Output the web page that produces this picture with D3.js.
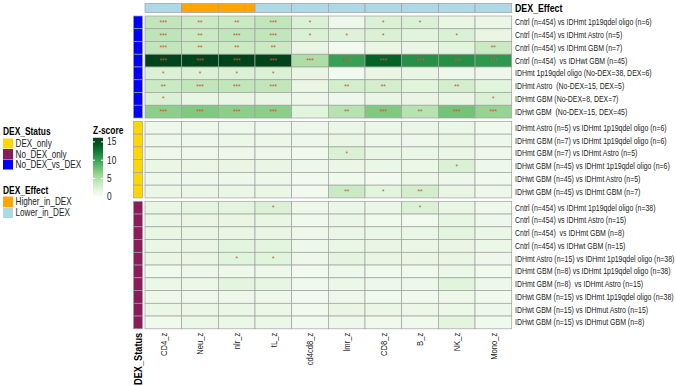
<!DOCTYPE html>
<html>
<head>
<meta charset="utf-8">
<script src="https://cdn.jsdelivr.net/npm/d3@7"></script>
<style>
  body { margin: 0; background: #fff; }
  svg { font-family: "Liberation Sans", Arial, sans-serif; }
</style>
</head>
<body>
<div id="heatmap"></div>
<script>
// columns and their DEX effect annotation
const columns = ["CD4_z", "Neu_z", "nlr_z", "tL_z", "cd4cd8_z", "lmr_z", "CD8_z", "B_z", "NK_z", "Mono_z"];
const effect = ["Lower_in_DEX", "Higher_in_DEX", "Higher_in_DEX", "Lower_in_DEX", "Lower_in_DEX",
                "Lower_in_DEX", "Lower_in_DEX", "Lower_in_DEX", "Lower_in_DEX", "Lower_in_DEX"];

// row groups (DEX_Status)
const statusLevels = ["DEX_only", "No_DEX_only", "No_DEX_vs_DEX"];

const rowsNoDexVsDex = [
  "Cntrl (n=454) vs IDHmt 1p19qdel oligo (n=6)",
  "Cntrl (n=454) vs IDHmt Astro (n=5)",
  "Cntrl (n=454) vs IDHmt GBM (n=7)",
  "Cntrl (n=454)  vs IDHwt GBM (n=45)",
  "IDHmt 1p19qdel oligo (No-DEX=38, DEX=6)",
  "IDHmt Astro  (No-DEX=15, DEX=5)",
  "IDHmt GBM (No-DEX=8, DEX=7)",
  "IDHwt GBM  (No-DEX=15, DEX=45)"
];
const rowsDexOnly = [
  "IDHmt Astro (n=5) vs IDHmt 1p19qdel oligo (n=6)",
  "IDHmt GBM (n=7) vs IDHmt 1p19qdel oligo (n=6)",
  "IDHmt GBM (n=7) vs IDHmt Astro (n=5)",
  "IDHwt GBM (n=45) vs IDHmt 1p19qdel oligo (n=6)",
  "IDHwt GBM (n=45) vs IDHmt Astro (n=5)",
  "IDHwt GBM (n=45) vs IDHmt GBM (n=7)"
];
const rowsNoDexOnly = [
  "Cntrl (n=454) vs IDHmt 1p19qdel oligo (n=38)",
  "Cntrl (n=454) vs IDHmt Astro (n=15)",
  "Cntrl (n=454)  vs IDHmt GBM (n=8)",
  "Cntrl (n=454) vs IDHwt GBM (n=15)",
  "IDHmt Astro (n=15) vs IDHmt 1p19qdel oligo (n=38)",
  "IDHmt GBM (n=8) vs IDHmt 1p19qdel oligo (n=38)",
  "IDHmt GBM (n=8)  vs IDHmt Astro (n=15)",
  "IDHwt GBM (n=15) vs IDHmt 1p19qdel oligo (n=38)",
  "IDHwt GBM (n=15) vs IDHmut Astro (n=15)",
  "IDHwt GBM (n=15) vs IDHmut GBM (n=8)"
];

// z-scores, one array per row, in column order
const zNoDexVsDex = [
  [4.0, 3.5, 3.5, 4.0, 2.5, 1.0, 2.5, 2.5, 1.5, 1.3],
  [4.2, 3.5, 4.0, 4.0, 2.5, 2.3, 2.5, 2.0, 2.5, 1.5],
  [4.0, 3.5, 3.5, 3.5, 1.5, 0.5, 1.5, 1.5, 2.0, 3.5],
  [15.5, 15.5, 15.5, 15.5, 5.0, 10.0, 13.5, 11.0, 11.0, 10.5],
  [2.5, 2.5, 2.5, 2.5, 1.5, 0.6, 1.5, 1.5, 1.0, 1.0],
  [3.5, 4.0, 4.0, 4.0, 1.5, 3.0, 3.0, 2.0, 3.0, 2.0],
  [2.5, 1.5, 1.5, 1.5, 1.0, 1.0, 1.5, 1.5, 1.5, 2.5],
  [6.5, 7.0, 6.5, 6.5, 2.0, 4.5, 7.0, 4.5, 7.5, 6.0]
];
const zDexOnly = [
  [1.0, 1.0, 1.0, 1.0, 1.0, 1.3, 1.3, 1.3, 1.3, 0.8],
  [1.0, 1.0, 1.2, 1.2, 1.0, 1.5, 1.0, 1.0, 1.5, 1.0],
  [1.0, 1.0, 1.0, 1.0, 0.8, 2.5, 1.5, 1.3, 1.3, 1.0],
  [1.3, 1.3, 1.5, 1.5, 1.0, 1.3, 1.3, 1.2, 2.5, 1.0],
  [1.0, 1.0, 1.0, 1.0, 0.5, 0.8, 0.6, 1.2, 1.0, 0.8],
  [1.3, 1.3, 1.3, 1.3, 0.5, 3.5, 2.0, 3.0, 1.5, 1.0]
];
const zNoDexOnly = [
  [1.5, 1.8, 1.8, 2.5, 1.0, 1.3, 1.3, 2.5, 1.5, 1.0],
  [1.3, 1.5, 1.5, 1.5, 0.8, 1.3, 0.8, 0.6, 1.6, 1.0],
  [1.5, 1.5, 1.5, 1.5, 1.0, 1.3, 1.3, 1.3, 1.8, 1.3],
  [1.3, 1.5, 1.8, 1.8, 1.0, 1.3, 1.5, 1.3, 1.5, 1.2],
  [1.5, 1.5, 2.0, 2.0, 1.0, 1.8, 1.5, 1.5, 1.5, 1.0],
  [0.8, 1.0, 1.0, 1.0, 0.6, 1.0, 0.8, 0.8, 1.2, 0.8],
  [1.2, 1.2, 1.8, 1.6, 0.8, 1.2, 1.0, 1.0, 2.0, 1.0],
  [1.0, 1.0, 1.0, 1.0, 0.6, 1.0, 0.6, 0.8, 1.0, 0.8],
  [1.3, 1.3, 1.3, 1.2, 0.8, 1.5, 1.3, 1.2, 1.2, 1.0],
  [0.8, 1.2, 1.2, 1.2, 0.6, 1.0, 0.8, 0.8, 1.8, 0.8]
];

// significance marks
const sigNoDexVsDex = [
  ["***", "**", "**", "***", "*", "", "*", "*", "", ""],
  ["***", "**", "***", "***", "*", "*", "*", "", "*", ""],
  ["***", "**", "**", "**", "", "", "", "", "", "**"],
  ["***", "***", "***", "***", "***", "***", "***", "***", "***", "***"],
  ["*", "*", "*", "*", "", "", "", "", "", ""],
  ["**", "***", "***", "***", "", "**", "**", "", "**", ""],
  ["*", "", "", "", "", "", "", "", "", "*"],
  ["***", "***", "***", "***", "", "**", "***", "**", "***", "***"]
];
const sigDexOnly = [
  ["", "", "", "", "", "", "", "", "", ""],
  ["", "", "", "", "", "", "", "", "", ""],
  ["", "", "", "", "", "*", "", "", "", ""],
  ["", "", "", "", "", "", "", "", "*", ""],
  ["", "", "", "", "", "", "", "", "", ""],
  ["", "", "", "", "", "**", "*", "**", "", ""]
];
const sigNoDexOnly = [
  ["", "", "", "*", "", "", "", "*", "", ""],
  ["", "", "", "", "", "", "", "", "", ""],
  ["", "", "", "", "", "", "", "", "", ""],
  ["", "", "", "", "", "", "", "", "", ""],
  ["", "", "*", "*", "", "", "", "", "", ""],
  ["", "", "", "", "", "", "", "", "", ""],
  ["", "", "", "", "", "", "", "", "", ""],
  ["", "", "", "", "", "", "", "", "", ""],
  ["", "", "", "", "", "", "", "", "", ""],
  ["", "", "", "", "", "", "", "", "", ""]
];

const zTicks = [0, 5, 10, 15];

// build groups from the arrays above
const groups = [
  {status: "No_DEX_vs_DEX", rows: rowsNoDexVsDex, z: zNoDexVsDex, sig: sigNoDexVsDex},
  {status: "DEX_only", rows: rowsDexOnly, z: zDexOnly, sig: sigDexOnly},
  {status: "No_DEX_only", rows: rowsNoDexOnly, z: zNoDexOnly, sig: sigNoDexOnly}
];

const width = 676, height = 386;
const rowH = 12.75, groupGap = 3.4, heatTop = 16;
const heatLeft = 145, heatRight = 511.7;
const squeeze = 0.8; // the original uses a condensed face

const statusColor = d3.scaleOrdinal()
  .domain(statusLevels)
  .range(["#ffd700", "#8b1c5b", "#0000ff"]);
const effectColor = d3.scaleOrdinal()
  .domain(["Higher_in_DEX", "Lower_in_DEX"])
  .range(["#ffa500", "#add8e6"]);
const color = d3.scaleSequential(d3.interpolateGreens).domain([0, 15]).clamp(true);

const x = d3.scaleBand()
  .domain(columns)
  .range([heatLeft, heatRight]);

const svg = d3.select("#heatmap")
  .append("svg")
  .attr("width", width)
  .attr("height", height);

const gridStroke = "#a0a0a0";

// condensed text helper
function narrowText(parent, tx, ty, str, size, opts = {}) {
  const t = parent.append("text")
    .attr("transform", `translate(${tx},${ty})${opts.rotate ? " rotate(-90)" : ""} scale(${squeeze},1)`)
    .attr("font-size", size)
    .attr("fill", opts.fill || "#222")
    .style("white-space", "pre")
    .text(str);
  if (opts.bold) t.attr("font-weight", "bold");
  if (opts.anchor) t.attr("text-anchor", opts.anchor);
  return t;
}

// top annotation: DEX_Effect
svg.append("g")
  .selectAll("rect")
  .data(columns)
  .join("rect")
  .attr("x", d => x(d))
  .attr("y", 3.5)
  .attr("width", x.bandwidth())
  .attr("height", 9)
  .attr("fill", (d, i) => effectColor(effect[i]))
  .attr("stroke", gridStroke)
  .attr("stroke-width", 0.7);

narrowText(svg, 515, 11.5, "DEX_Effect", 11, {bold: true, fill: "#000"});

// heatmap body, one block per group
let yStart = heatTop;
groups.forEach(grp => {
  const y = d3.scaleBand()
    .domain(grp.rows)
    .range([yStart, yStart + grp.rows.length * rowH]);

  const g = svg.append("g").attr("class", grp.status);

  const cells = [];
  grp.rows.forEach((r, i) => {
    columns.forEach((c, j) => {
      cells.push({row: r, col: c, z: grp.z[i][j], sig: grp.sig[i][j]});
    });
  });

  g.selectAll("rect.cell")
    .data(cells)
    .join("rect")
    .attr("class", "cell")
    .attr("x", d => x(d.col))
    .attr("y", d => y(d.row))
    .attr("width", x.bandwidth())
    .attr("height", y.bandwidth())
    .attr("fill", d => color(d.z))
    .attr("stroke", gridStroke)
    .attr("stroke-width", 0.7);

  g.selectAll("text.sig")
    .data(cells.filter(d => d.sig))
    .join("text")
    .attr("class", "sig")
    .attr("x", d => x(d.col) + x.bandwidth() / 2)
    .attr("y", d => y(d.row) + y.bandwidth() / 2 + 2.6)
    .attr("text-anchor", "middle")
    .attr("font-size", 6.5)
    .attr("fill", "#c2553a")
    .text(d => d.sig);

  // DEX_Status side bar
  g.selectAll("rect.status")
    .data(grp.rows)
    .join("rect")
    .attr("class", "status")
    .attr("x", 133.5)
    .attr("y", d => y(d))
    .attr("width", 9)
    .attr("height", y.bandwidth())
    .attr("fill", statusColor(grp.status))
    .attr("stroke", gridStroke)
    .attr("stroke-width", 0.7);

  // row labels
  grp.rows.forEach(r => {
    narrowText(g, 515, y(r) + y.bandwidth() / 2 + 3, r, 8.7);
  });

  yStart += grp.rows.length * rowH + groupGap;
});

const heatBottom = yStart - groupGap;

// column labels
columns.forEach(c => {
  narrowText(svg, x(c) + x.bandwidth() / 2 + 3.3, heatBottom + 4, c, 9.5, {rotate: true, anchor: "end"});
});

narrowText(svg, 142, heatBottom + 4, "DEX_Status", 11.5, {rotate: true, anchor: "end", bold: true, fill: "#000"});

// legends on the left
const legend = svg.append("g");

narrowText(legend, 3, 134.5, "DEX_Status", 10.5, {bold: true, fill: "#000"});

legend.selectAll("rect.st")
  .data(statusLevels)
  .join("rect")
  .attr("class", "st")
  .attr("x", 3)
  .attr("y", (d, i) => 138.5 + i * 10.5)
  .attr("width", 10)
  .attr("height", 10)
  .attr("fill", d => statusColor(d));

statusLevels.forEach((s, i) => narrowText(legend, 15.5, 147 + i * 10.5, s, 10.2));

const effectLevels = ["Higher_in_DEX", "Lower_in_DEX"];
narrowText(legend, 3, 193.5, "DEX_Effect", 10.5, {bold: true, fill: "#000"});

legend.selectAll("rect.ef")
  .data(effectLevels)
  .join("rect")
  .attr("class", "ef")
  .attr("x", 3)
  .attr("y", (d, i) => 196.5 + i * 11)
  .attr("width", 10)
  .attr("height", 10.5)
  .attr("fill", d => effectColor(d));

effectLevels.forEach((s, i) => narrowText(legend, 15.5, 205 + i * 11, s, 10.2));

// Z-score colour bar
const zScale = d3.scaleLinear().domain([0, 15]).range([196.3, 141.4]);
const defs = svg.append("defs");
const grad = defs.append("linearGradient")
  .attr("id", "zgrad")
  .attr("x1", 0).attr("y1", 1).attr("x2", 0).attr("y2", 0);
d3.range(0, 1.01, 0.1).forEach(t => {
  grad.append("stop")
    .attr("offset", t)
    .attr("stop-color", color(t * 16));
});

narrowText(legend, 93, 134, "Z-score", 10.5, {bold: true, fill: "#000"});

legend.append("rect")
  .attr("x", 93)
  .attr("y", zScale(16))
  .attr("width", 10)
  .attr("height", zScale(0) - zScale(16))
  .attr("fill", "url(#zgrad)");

const zAxis = legend.append("g")
  .attr("transform", "translate(103,0)")
  .call(d3.axisRight(zScale).tickValues(zTicks).tickSizeInner(-2).tickSizeOuter(0).tickPadding(4));
zAxis.select(".domain").remove();
zAxis.selectAll(".tick line").attr("stroke", "#fff");
zAxis.selectAll(".tick text")
  .attr("font-size", 10.5)
  .attr("font-family", "'Liberation Sans', Arial, sans-serif")
  .attr("fill", "#222")
  .attr("transform", `scale(${squeeze},1)`)
  .attr("x", 5);

const zAxisL = legend.append("g")
  .attr("transform", "translate(93,0)")
  .call(d3.axisLeft(zScale).tickValues(zTicks).tickSizeInner(-2).tickSizeOuter(0).tickFormat(""));
zAxisL.select(".domain").remove();
zAxisL.selectAll(".tick line").attr("stroke", "#fff");
</script>
</body>
</html>
